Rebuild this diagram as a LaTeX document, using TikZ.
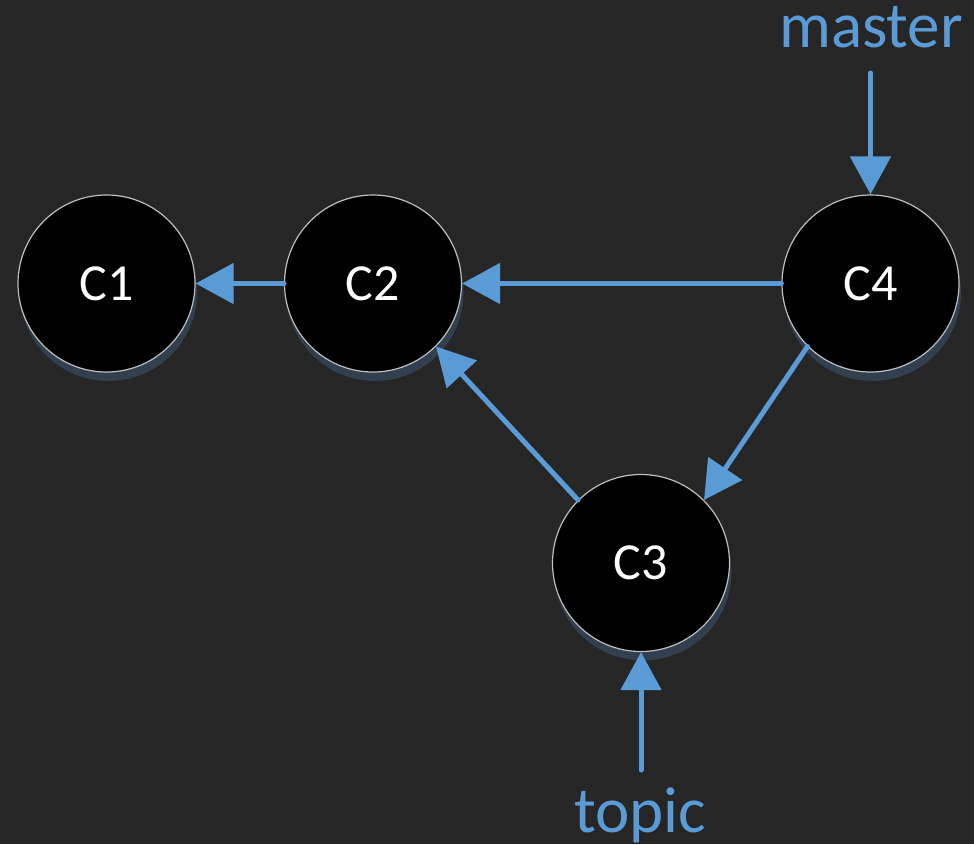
\documentclass[tikz,border=0pt]{standalone}
\usepackage{fontspec}
\setmainfont{Carlito}
\usetikzlibrary{arrows.meta,shadows}
\definecolor{bgc}{RGB}{38,38,38}
\definecolor{linkc}{RGB}{91,155,213}
\definecolor{shadowc}{RGB}{50,63,79}
\definecolor{rimc}{RGB}{191,191,191}
\tikzset{
  commit/.style={circle, minimum size=177pt, inner sep=0pt, fill=black,
    draw=rimc, line width=1.2pt, text=white,
    font=\fontsize{52}{60}\selectfont,
    drop shadow={shadow xshift=2pt, shadow yshift=-9pt, fill=shadowc, opacity=1}},
  ref/.style={text=linkc, inner sep=0pt, anchor=base,
    font=\fontsize{65}{75}\selectfont},
  link/.style={draw=linkc, line width=5pt, line cap=round,
    -{Triangle[length=38pt,width=40pt]}}
}
\begin{document}
\begin{tikzpicture}[x=1pt,y=-1pt]
  \fill[bgc] (0,0) rectangle (974,844);
  \useasboundingbox (0,0) rectangle (974,844);

  % commits
  \node[commit] (C1) at (106.5,283.5) {C1};
  \node[commit] (C2) at (373,283.5) {C2};
  \node[commit] (C4) at (870.5,283.5) {C4};
  \node[commit] (C3) at (641,563) {C3};

  % branch labels
  \node[ref] (master) at (871,47) {master};
  \node[ref] (topic) at (640,832) {topic};
  \coordinate (mtail) at (870.5,73);
  \coordinate (ttail) at (641,770);

  % parent links
  \draw[link] (C2.west) -- (C1.east);
  \draw[link] (C4.west) -- (C2.east);
  \draw[link] (C4.225) -- (C3.45);
  \draw[link] (C3.135) -- (C2.-45);

  % branch pointers
  \draw[link] (mtail) -- (C4.north);
  \draw[link] (ttail) -- (C3.south);
\end{tikzpicture}
\end{document}
